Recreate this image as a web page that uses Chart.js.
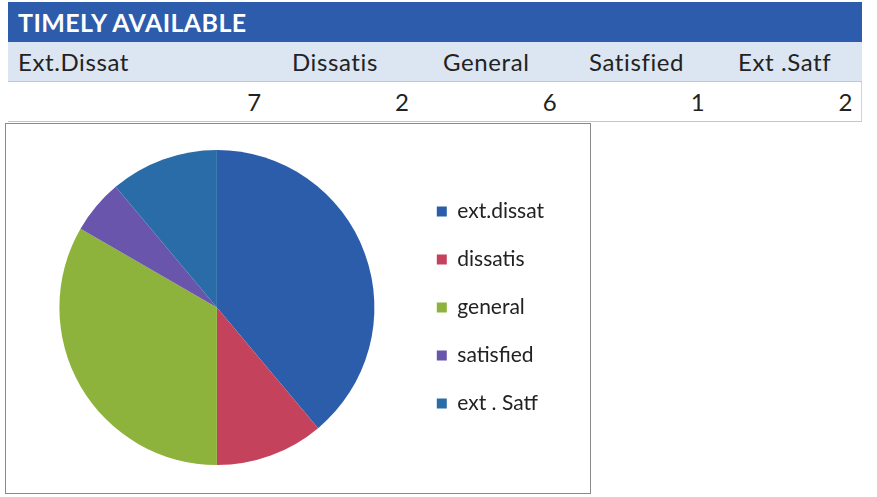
<!DOCTYPE html>
<html>
<head>
<meta charset="utf-8">
<script src="https://cdn.jsdelivr.net/npm/chart.js@4/dist/chart.umd.min.js"></script>
<style>
  body { margin: 0; background: #fff; font-family: Lato, "Open Sans", sans-serif; width: 877px; height: 497px; position: relative; overflow: hidden; }
  #title { position: absolute; left: 8px; top: 2px; width: 854px; height: 40px; background: #2c5cab; color: #fff; font-weight: bold; font-size: 25px; line-height: 40px; padding-left: 10px; box-sizing: border-box; letter-spacing: 0.4px; }
  .row { position: absolute; left: 8px; width: 854px; height: 40px; display: flex; box-sizing: border-box; }
  #labels { top: 42px; background: #dce5f2; border-bottom: 1px solid #b8c8e4; }
  #values { top: 82px; background: #fff; border-bottom: 1px solid #b8c8e4; border-right: 1px solid #c8d4ea; }
  .cell { font-size: 24px; line-height: 40px; color: #222; box-sizing: border-box; white-space: nowrap; letter-spacing: 0.6px; }
  #chartBox { position: absolute; left: 5px; top: 123px; width: 586px; height: 371px; border: 1px solid #8a8a8a; box-sizing: border-box; background: #fff; }
</style>
</head>
<body>
<div id="title">TIMELY AVAILABLE</div>
<div class="row" id="labels"></div>
<div class="row" id="values"></div>
<div id="chartBox"><canvas id="pieCanvas" width="584" height="369"></canvas></div>
<script>
const tableLabels = ["Ext.Dissat", "Dissatis", "General", "Satisfied", "Ext .Satf"];
const legendLabels = ["ext.dissat", "dissatis", "general", "satisfied", "ext . Satf"];
const counts = [7, 2, 6, 1, 2];
const sliceColors = ["#2b5dab", "#c5425d", "#8db33d", "#6955ab", "#2a6ca7"];
const colWidths = [262, 148, 148, 148, 148];
const labelIndent = [10, 22, 25, 23, 24];

const labelRow = document.getElementById("labels");
const valueRow = document.getElementById("values");
tableLabels.forEach((name, i) => {
  const lc = document.createElement("div");
  lc.className = "cell";
  lc.style.width = colWidths[i] + "px";
  lc.style.paddingLeft = labelIndent[i] + "px";
  lc.textContent = name;
  labelRow.appendChild(lc);

  const vc = document.createElement("div");
  vc.className = "cell";
  vc.style.width = colWidths[i] + "px";
  vc.style.textAlign = "right";
  vc.style.paddingRight = "8px";
  vc.textContent = counts[i];
  valueRow.appendChild(vc);
});

const ctx = document.getElementById("pieCanvas").getContext("2d");
new Chart(ctx, {
  type: "pie",
  data: {
    labels: legendLabels,
    datasets: [
      {
        data: counts,
        backgroundColor: sliceColors,
        borderWidth: 0,
        hoverOffset: 0,
      },
    ],
  },
  options: {
    responsive: false,
    animation: false,
    layout: { padding: { left: 18, right: 36, top: 26, bottom: 28 } },
    plugins: {
      tooltip: { enabled: false },
      legend: {
        position: "right",
        labels: {
          boxWidth: 10,
          boxHeight: 10,
          padding: 27,
          color: "#222",
          font: { family: "Lato", size: 21 },
        },
      },
    },
  },
});
</script>
</body>
</html>
